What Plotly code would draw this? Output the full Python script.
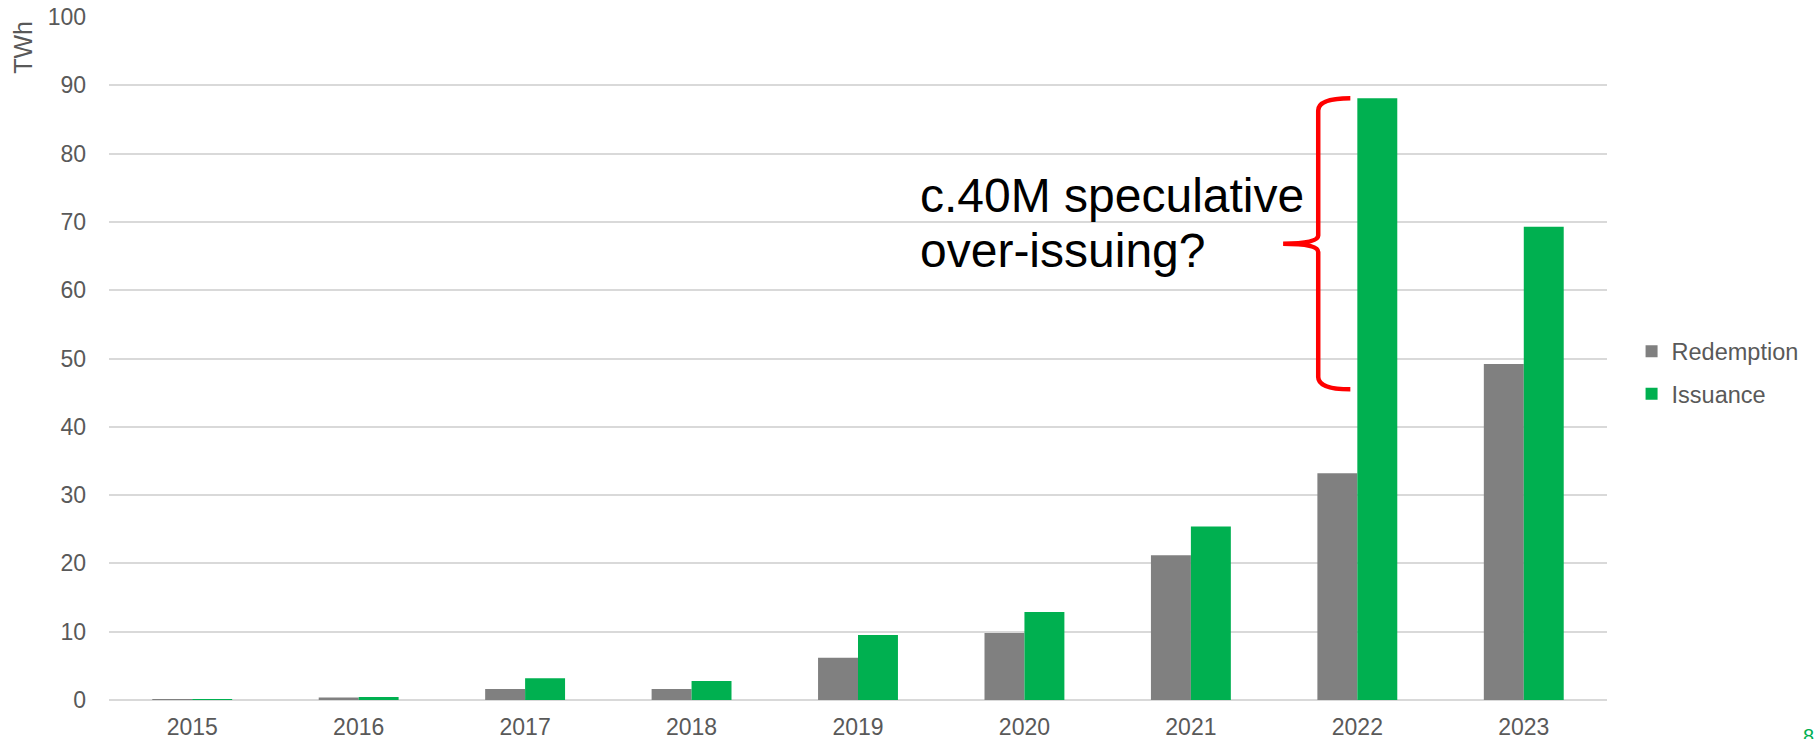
import plotly.graph_objects as go

# Annual certificate volumes, TWh
years = ["2015", "2016", "2017", "2018", "2019", "2020", "2021", "2022", "2023"]
redemption = [0.05, 0.35, 1.6, 1.6, 6.2, 9.8, 21.2, 33.2, 49.2]
issuance = [0.08, 0.45, 3.2, 2.8, 9.5, 12.9, 25.4, 88.1, 69.3]
y_ticks = list(range(0, 101, 10))

# Brace spans the 2022 issuance bar from its top down to ~45 TWh
brace_year = "2022"
brace_bottom = 45.5

FONT = "Liberation Sans, Arial, sans-serif"
GREY_TXT = "#595959"
GRID = "#D9D9D9"

x_pos = list(range(len(years)))

fig = go.Figure()
fig.add_trace(go.Bar(
    x=x_pos, y=redemption, name="Redemption",
    marker=dict(color="#808080", line=dict(width=0)),
    legendgroup="r",
))
fig.add_trace(go.Bar(
    x=x_pos, y=issuance, name="Issuance",
    marker=dict(color="#00B050", line=dict(width=0)),
    legendgroup="i",
))

# Curly brace drawn next to the tall 2022 issuance bar
bi = years.index(brace_year)
yt = issuance[bi]
yb = brace_bottom
ym = (yt + yb) / 2
xa = bi - 0.042   # arm ends
xs = bi - 0.235   # spine
xt = bi - 0.446   # tip
r1 = 1.8
r2 = 1.2
path = (
    f"M {xa},{yt} Q {xs},{yt} {xs},{yt - r1} "
    f"L {xs},{ym + r2} Q {xs},{ym} {xt},{ym} "
    f"Q {xs},{ym} {xs},{ym - r2} "
    f"L {xs},{yb + r1} Q {xs},{yb} {xa},{yb}"
)
fig.add_shape(type="path", path=path, xref="x", yref="y",
              line=dict(color="#FF0000", width=4.5))

fig.add_annotation(text="c.40M speculative", xref="paper", yref="paper",
                   x=0.540, y=0.7387, xanchor="left", yanchor="middle",
                   showarrow=False, font=dict(family=FONT, size=48, color="#000000"))
fig.add_annotation(text="over-issuing?", xref="paper", yref="paper",
                   x=0.540, y=0.6580, xanchor="left", yanchor="middle",
                   showarrow=False, font=dict(family=FONT, size=48, color="#000000"))

# Axis unit label at the top of the y axis
fig.add_annotation(text="TWh", xref="paper", yref="paper",
                   x=-0.0574, y=0.955, xanchor="center", yanchor="middle",
                   textangle=-90, showarrow=False,
                   font=dict(family=FONT, size=25, color=GREY_TXT))

# Slide page number, mostly cut off at the bottom edge
fig.add_annotation(text="8", xref="paper", yref="paper",
                   x=1.1342, y=-0.0337, xanchor="center", yanchor="top",
                   showarrow=False,
                   font=dict(family=FONT, size=20, color="#00B050"))

fig.update_layout(
    width=1814, height=739,
    margin=dict(l=109, r=207, t=17, b=39, autoexpand=False),
    paper_bgcolor="white", plot_bgcolor="white",
    barmode="group", bargap=0.52, bargroupgap=0,
    font=dict(family=FONT, color=GREY_TXT),
    showlegend=True,
    legend=dict(
        x=1.0164, y=0.4788, xanchor="left", yanchor="middle",
        font=dict(family=FONT, size=23.5, color=GREY_TXT),
        tracegroupgap=9, traceorder="grouped",
        bgcolor="rgba(0,0,0,0)",
    ),
    xaxis=dict(
        tickmode="array", tickvals=x_pos, ticktext=years,
        range=[-0.5, len(years) - 0.5],
        showgrid=False, zeroline=False, showline=False,
        ticks="", ticklabelstandoff=11, automargin=False,
        tickfont=dict(family=FONT, size=23, color=GREY_TXT),
    ),
    yaxis=dict(
        range=[0, 100], tickmode="array", tickvals=y_ticks,
        showgrid=True, gridcolor=GRID, gridwidth=1.5,
        zeroline=True, zerolinecolor=GRID, zerolinewidth=1.5,
        showline=False, ticks="", ticklabelstandoff=22, automargin=False,
        tickfont=dict(family=FONT, size=23, color=GREY_TXT),
    ),
)

fig.write_html("out.html")
